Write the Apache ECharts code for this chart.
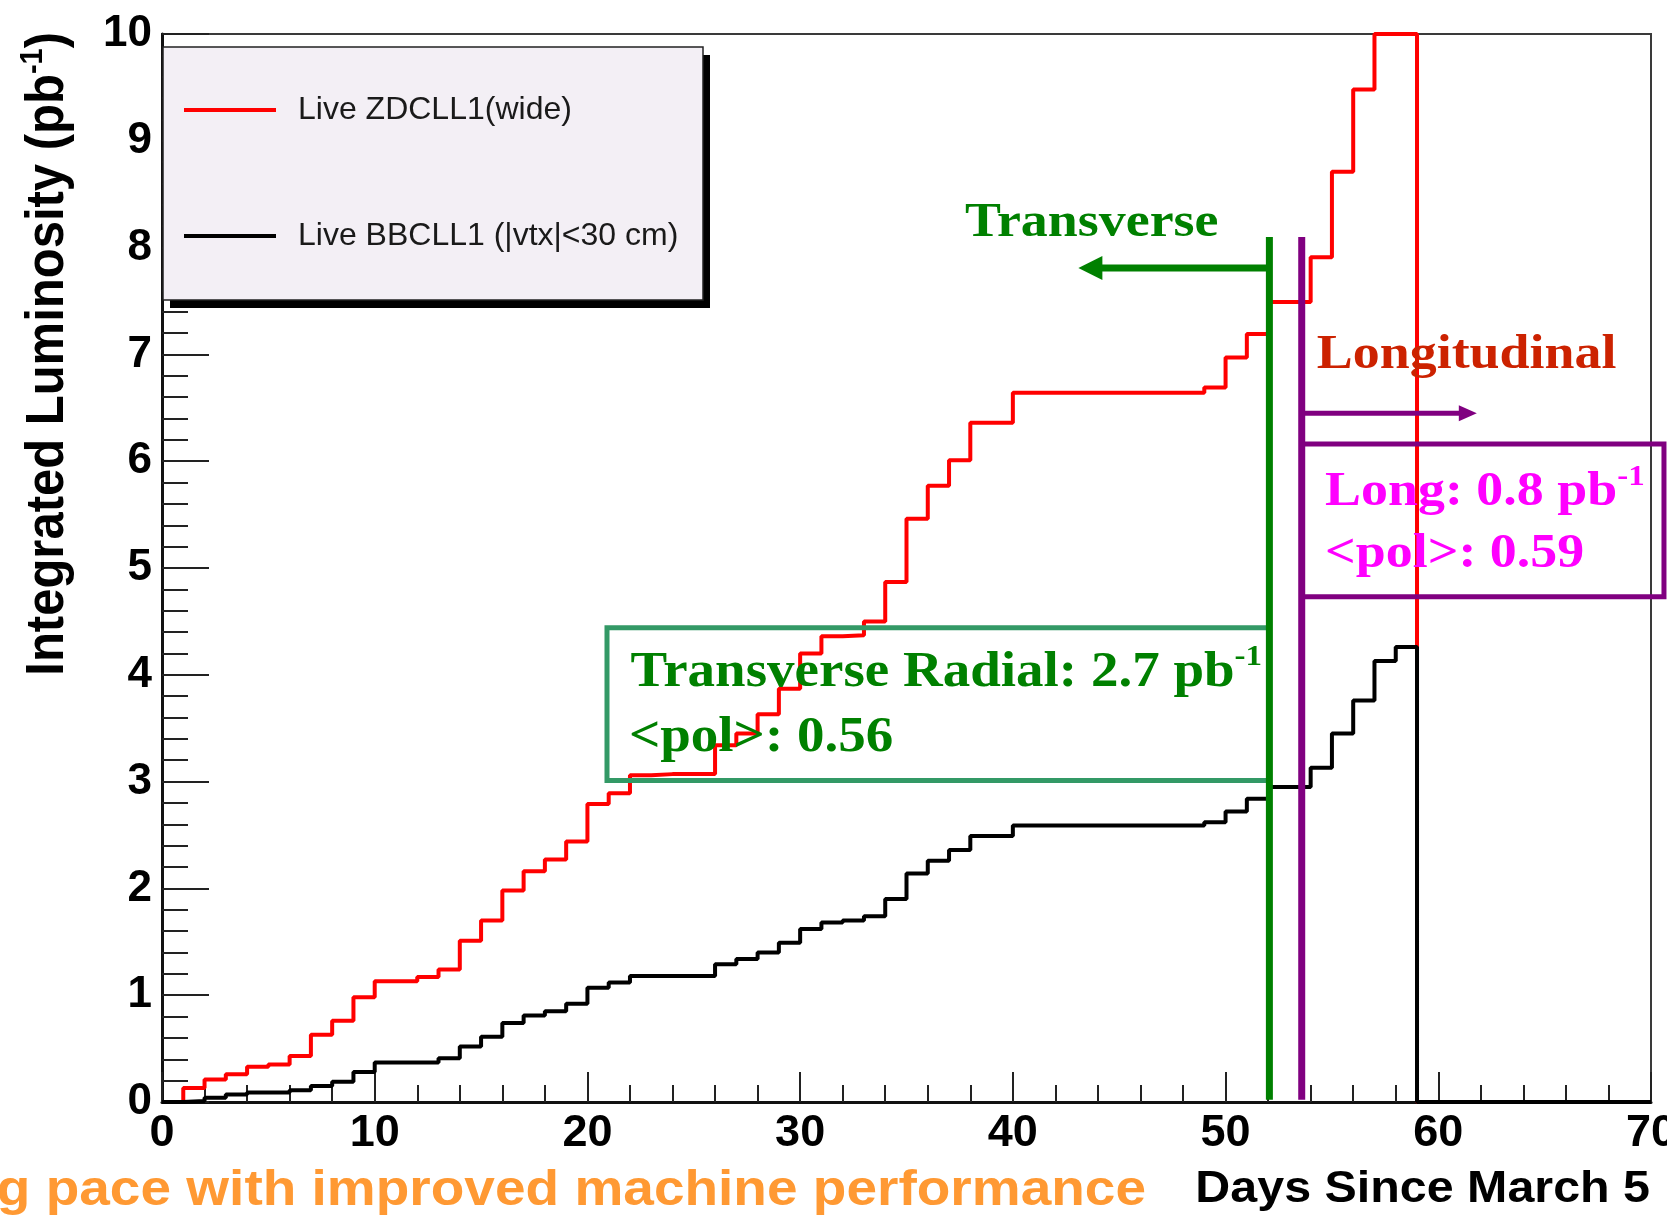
<!DOCTYPE html>
<html>
<head>
<meta charset="utf-8">
<script src="https://cdn.jsdelivr.net/npm/echarts@6/dist/echarts.min.js"></script>
<style>
html, body { margin: 0; padding: 0; background: #ffffff; }
#chart { width: 1667px; height: 1215px; }
</style>
</head>
<body>
<div id="chart"></div>
<script>
// ---- data ----
// lower edges of the 1-day bins, plus the closing edge at 70
const binEdges = [0,1,2,3,4,5,6,7,8,9,10,11,12,13,14,15,16,17,18,19,20,21,22,23,24,25,26,27,28,29,30,31,32,33,34,35,36,37,38,39,40,41,42,43,44,45,46,47,48,49,50,51,52,53,54,55,56,57,58,59,60,61,62,63,64,65,66,67,68,69,70];

// Live ZDCLL1(wide), integrated luminosity (pb^-1) per day bin
const zdcLive = [0,0.13,0.21,0.26,0.33,0.35,0.43,0.63,0.76,0.98,
  1.13,1.13,1.17,1.24,1.51,1.70,1.98,2.16,2.27,2.44,
  2.79,2.89,3.06,3.07,3.07,3.07,3.34,3.45,3.63,3.87,
  4.20,4.36,4.37,4.50,4.87,5.46,5.77,6.01,6.36,6.36,
  6.64,6.64,6.64,6.64,6.64,6.64,6.64,6.64,6.64,6.69,
  6.97,7.19,7.49,7.49,7.91,8.71,9.48,10.0,10.0,0,
  0,0,0,0,0,0,0,0,0,0];

// Live BBCLL1 (|vtx|<30 cm)
const bbcLive = [0,0.01,0.04,0.07,0.09,0.09,0.11,0.15,0.19,0.28,
  0.37,0.37,0.37,0.41,0.52,0.61,0.74,0.81,0.85,0.92,
  1.07,1.12,1.18,1.18,1.18,1.18,1.29,1.34,1.40,1.49,
  1.62,1.68,1.70,1.74,1.90,2.14,2.26,2.36,2.49,2.49,
  2.59,2.59,2.59,2.59,2.59,2.59,2.59,2.59,2.59,2.62,
  2.72,2.84,2.95,2.95,3.13,3.45,3.76,4.13,4.26,0,
  0,0,0,0,0,0,0,0,0,0];

const seriesNames = ['Live ZDCLL1(wide)', 'Live BBCLL1 (|vtx|<30 cm)'];
const xRange = [0, 70, 10];
const yRange = [0, 10, 1];

// run-period annotations (data units: days, pb^-1)
const transverseEnd = 52.06;
const longitudinalStart = 53.58;
const markerTop = 8.10;
const transverseArrow = { y: 7.81, tip: 43.08 };
const longitudinalArrow = { y: 6.45, tip: 61.81 };
const transverseBox = { x0: 20.92, x1: 52.05, y0: 3.01, y1: 4.44 };
const longBox = { x0: 53.58, x1: 70.61, y0: 4.73, y1: 6.16 };

function stepData(vals) {
  return binEdges.map((d, i) => [d, vals[Math.min(i, vals.length - 1)]]);
}

const chart = echarts.init(document.getElementById('chart'), null, { renderer: 'canvas' });

const tickLabelFont = { fontFamily: 'Liberation Sans', fontWeight: 'bold', color: '#000' };

// legend frame (layout only)
const legendBox = { left: 163, top: 47, width: 540, height: 253, shadow: 7 };

const option = {
  animation: false,
  backgroundColor: '#ffffff',
  grid: {
    left: 162, right: 16, top: 34, bottom: 113,
    show: true, borderColor: '#3a3a3a', borderWidth: 2, backgroundColor: 'transparent',
    containLabel: false, outerBoundsMode: 'none'
  },
  legend: {
    orient: 'vertical', left: legendBox.left, top: legendBox.top,
    padding: [47, 25, 46, 21],
    itemGap: 94, itemWidth: 92, itemHeight: 4, icon: 'rect',
    backgroundColor: 'transparent', borderWidth: 0,
    textStyle: { fontFamily: 'Liberation Sans', fontSize: 32, color: '#1a1a1a', padding: [0, 0, 0, 17] },
    selectedMode: false,
    data: seriesNames
  },
  xAxis: {
    type: 'value', min: xRange[0], max: xRange[1], interval: xRange[2],
    axisLine: { show: true, onZero: false, lineStyle: { color: '#111', width: 3 } },
    axisTick: { show: true, inside: true, length: 30, lineStyle: { color: '#222', width: 2 } },
    minorTick: { show: true, splitNumber: 5, length: 17, lineStyle: { color: '#222', width: 2 } },
    splitLine: { show: false },
    axisLabel: Object.assign({ fontSize: 45, margin: 9 }, tickLabelFont)
  },
  yAxis: {
    type: 'value', min: yRange[0], max: yRange[1], interval: yRange[2],
    axisLine: { show: true, onZero: false, lineStyle: { color: '#111', width: 3 } },
    axisTick: { show: true, inside: true, length: 47, lineStyle: { color: '#222', width: 2 } },
    minorTick: { show: true, splitNumber: 5, length: 26, lineStyle: { color: '#222', width: 2 } },
    splitLine: { show: false },
    axisLabel: Object.assign({ fontSize: 44, margin: 10 }, tickLabelFont)
  },
  series: [
    {
      name: seriesNames[0], type: 'line', step: 'end', symbol: 'none', showSymbol: false,
      clip: false, z: 2,
      lineStyle: { color: '#ff0000', width: 4 }, itemStyle: { color: '#ff0000' },
      data: stepData(zdcLive)
    },
    {
      name: seriesNames[1], type: 'line', step: 'end', symbol: 'none', showSymbol: false,
      clip: false, z: 3,
      lineStyle: { color: '#000000', width: 4 }, itemStyle: { color: '#000000' },
      data: stepData(bbcLive)
    }
  ]
};

chart.setOption(option);

const P = (d, v) => chart.convertToPixel({ gridIndex: 0 }, [d, v]);

function rectFrom(b, color, z) {
  const a = P(b.x0, b.y1), c = P(b.x1, b.y0);
  return { type: 'rect', z: z, silent: true,
    shape: { x: a[0], y: a[1], width: c[0] - a[0], height: c[1] - a[1] },
    style: { fill: 'none', stroke: color, lineWidth: 5 } };
}
function vline(d, color, z) {
  const a = P(d, markerTop), c = P(d, 0.02);
  return { type: 'line', z: z, silent: true,
    shape: { x1: a[0], y1: a[1], x2: c[0], y2: c[1] },
    style: { stroke: color, lineWidth: 7 } };
}
function serifText(d, v, text, color, size, hasSup) {
  const p = P(d, v);
  const base = { fontSize: size, fontFamily: 'Liberation Serif', fontWeight: 'bold', fill: color, lineHeight: Math.round(size * 1.2) };
  const style = hasSup
    ? { text: '{m|' + text + '}{s|-1}', rich: { m: base, s: { fontSize: 30, fontFamily: 'Liberation Serif', fontWeight: 'bold', fill: color, lineHeight: 24, verticalAlign: 'top' } }, align: 'left', verticalAlign: 'middle' }
    : Object.assign({ text: text, align: 'left', verticalAlign: 'middle' }, base);
  return { type: 'text', x: p[0], y: p[1], scaleX: 1.1, scaleY: 1, z: 12, silent: true, style: style };
}

const gA = P(transverseEnd, transverseArrow.y), gT = P(transverseArrow.tip, transverseArrow.y);
const pA = P(longitudinalStart, longitudinalArrow.y), pT = P(longitudinalArrow.tip, longitudinalArrow.y);

const graphics = [
  // legend frame with hard drop shadow, under the legend items (legend z = 4)
  { type: 'rect', z: 3, silent: true,
    shape: { x: legendBox.left + legendBox.shadow, y: legendBox.top + legendBox.shadow + 1, width: legendBox.width, height: legendBox.height },
    style: { fill: '#000' } },
  { type: 'rect', z: 3, z2: 1, silent: true,
    shape: { x: legendBox.left, y: legendBox.top, width: legendBox.width, height: legendBox.height },
    style: { fill: '#f3eff5', stroke: '#222', lineWidth: 1.5 } },
  rectFrom(transverseBox, '#339966', 10),
  rectFrom(longBox, '#800080', 10),
  vline(transverseEnd, '#008000', 11),
  vline(longitudinalStart, '#800080', 11),
  { type: 'line', z: 11, silent: true, shape: { x1: gA[0], y1: gA[1], x2: gT[0] + 20, y2: gT[1] }, style: { stroke: '#008000', lineWidth: 7 } },
  { type: 'polygon', z: 11, silent: true, shape: { points: [[gT[0], gT[1]], [gT[0] + 24, gT[1] - 12], [gT[0] + 24, gT[1] + 12]] }, style: { fill: '#008000' } },
  { type: 'line', z: 11, silent: true, shape: { x1: pA[0], y1: pA[1], x2: pT[0] - 15, y2: pT[1] }, style: { stroke: '#800080', lineWidth: 5 } },
  { type: 'polygon', z: 11, silent: true, shape: { points: [[pT[0], pT[1]], [pT[0] - 18, pT[1] - 8], [pT[0] - 18, pT[1] + 8]] }, style: { fill: '#800080' } },
  serifText(37.75, 8.23, 'Transverse', '#008000', 49, false),
  serifText(54.29, 6.99, 'Longitudinal', '#cc2200', 49, false),
  serifText(54.68, 5.71, 'Long: 0.8 pb', '#ff00ff', 49, true),
  serifText(54.68, 5.13, '<pol>: 0.59', '#ff00ff', 49, false),
  serifText(22.03, 4.02, 'Transverse Radial: 2.7 pb', '#008000', 50, true),
  serifText(21.95, 3.41, '<pol>: 0.56', '#008000', 50, false),
  // axis titles and footer
  { type: 'text', x: 48, y: 32, rotation: Math.PI / 2, scaleX: 1, scaleY: 1.1, z: 12, silent: true,
    style: { text: '{m|Integrated Luminosity (pb}{s|-1}{m|)}', align: 'right', verticalAlign: 'middle',
      rich: { m: { fontSize: 49, fontFamily: 'Liberation Sans', fontWeight: 'bold', fill: '#000', lineHeight: 56 },
              s: { fontSize: 29, fontFamily: 'Liberation Sans', fontWeight: 'bold', fill: '#000', lineHeight: 26, verticalAlign: 'top' } } } },
  { type: 'text', x: 1650, y: 1190, scaleX: 1.1, z: 12, silent: true,
    style: { text: 'Days Since March 5', align: 'right', verticalAlign: 'middle', fontSize: 44, fontFamily: 'Liberation Sans', fontWeight: 'bold', fill: '#000' } },
  { type: 'text', x: 1146, y: 1191, scaleX: 1.1, z: 12, silent: true,
    style: { text: 'g pace with improved machine performance', align: 'right', verticalAlign: 'middle', fontSize: 50, fontFamily: 'Liberation Sans', fontWeight: 'bold', fill: '#ff9933' } }
];

chart.setOption({ graphic: graphics });
</script>
</body>
</html>
